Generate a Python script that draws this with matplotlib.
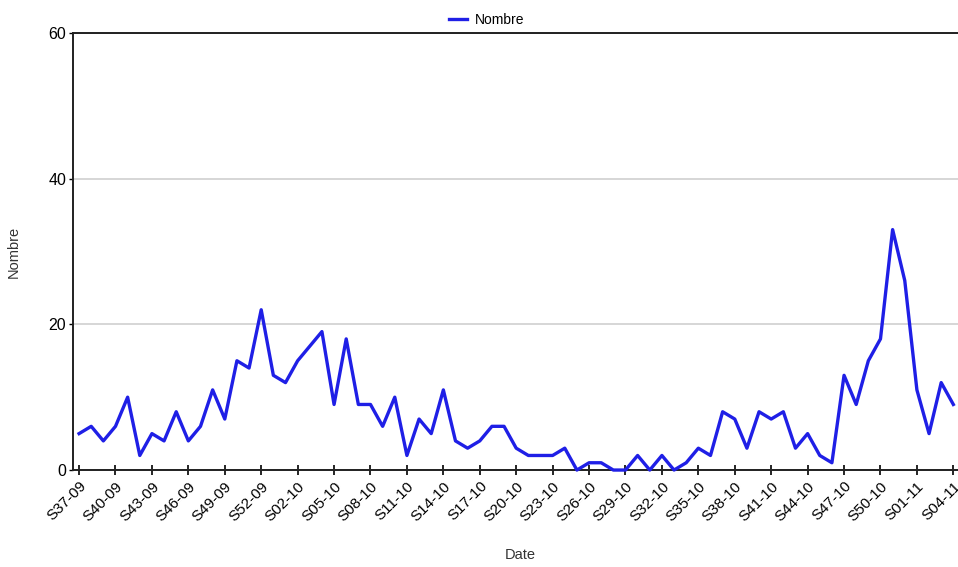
"""Nombre hebdomadaire, S37-09 a S04-11."""

import matplotlib

matplotlib.use("Agg")
import matplotlib.pyplot as plt

plt.rcParams["font.family"] = ["Liberation Sans", "DejaVu Sans"]

# une valeur par semaine, de S37-09 a S04-11
NOMBRE = [
    5, 6, 4, 6, 10, 2, 5, 4, 8, 4, 6, 11, 7, 15, 14, 22, 13, 12, 15, 17,
    19, 9, 18, 9, 9, 6, 10, 2, 7, 5, 11, 4, 3, 4, 6, 6, 3, 2, 2, 2,
    3, 0, 1, 1, 0, 0, 2, 0, 2, 0, 1, 3, 2, 8, 7, 3, 8, 7, 8, 3,
    5, 2, 1, 13, 9, 15, 18, 33, 26, 11, 5, 12, 9,
]

# une etiquette toutes les 3 semaines
TICK_LABELS = [
    "S37-09", "S40-09", "S43-09", "S46-09", "S49-09", "S52-09", "S02-10",
    "S05-10", "S08-10", "S11-10", "S14-10", "S17-10", "S20-10", "S23-10",
    "S26-10", "S29-10", "S32-10", "S35-10", "S38-10", "S41-10", "S44-10",
    "S47-10", "S50-10", "S01-11", "S04-11",
]
TICK_STEP = 3
Y_TICKS = [0, 20, 40, 60]


def main() -> None:
    fig = plt.figure(figsize=(9.58, 5.67), dpi=100)
    ax = fig.add_axes([0.0762, 0.171, 0.924, 0.771])

    xs = list(range(len(NOMBRE)))
    ax.plot(xs, NOMBRE, color="#1f1fe6", linewidth=2.4, label="Nombre",
            clip_on=False, zorder=3)

    ax.set_xlim(-0.5, 72.4)
    ax.set_ylim(0, 60)
    ax.set_yticks(Y_TICKS)
    ax.set_xticks(xs[::TICK_STEP])
    ax.set_xticklabels(TICK_LABELS, rotation=45, ha="right",
                       rotation_mode="anchor", fontsize=11)
    ax.tick_params(axis="x", direction="inout", length=7, width=1.2, pad=3)
    ax.tick_params(axis="y", direction="out", length=3, width=1.0,
                   labelsize=11.5, pad=2)

    ax.yaxis.grid(True, color="#d0d0d0", linewidth=1.2)
    ax.set_axisbelow(True)
    for side in ("left", "bottom", "top"):
        ax.spines[side].set_linewidth(1.4)
        ax.spines[side].set_color("#202020")
    ax.spines["right"].set_visible(False)

    ax.set_ylabel("Nombre", fontsize=10.5, color="#333333", labelpad=20)
    fig.text(0.543, 0.008, "Date", fontsize=10.5, color="#333333",
             ha="center", va="bottom")

    fig.legend(loc="upper center", bbox_to_anchor=(0.508, 1.0), frameon=False,
               fontsize=10, handlelength=1.3, handletextpad=0.5)

    fig.savefig("out.png", dpi=100)
    plt.close(fig)


if __name__ == "__main__":
    main()
